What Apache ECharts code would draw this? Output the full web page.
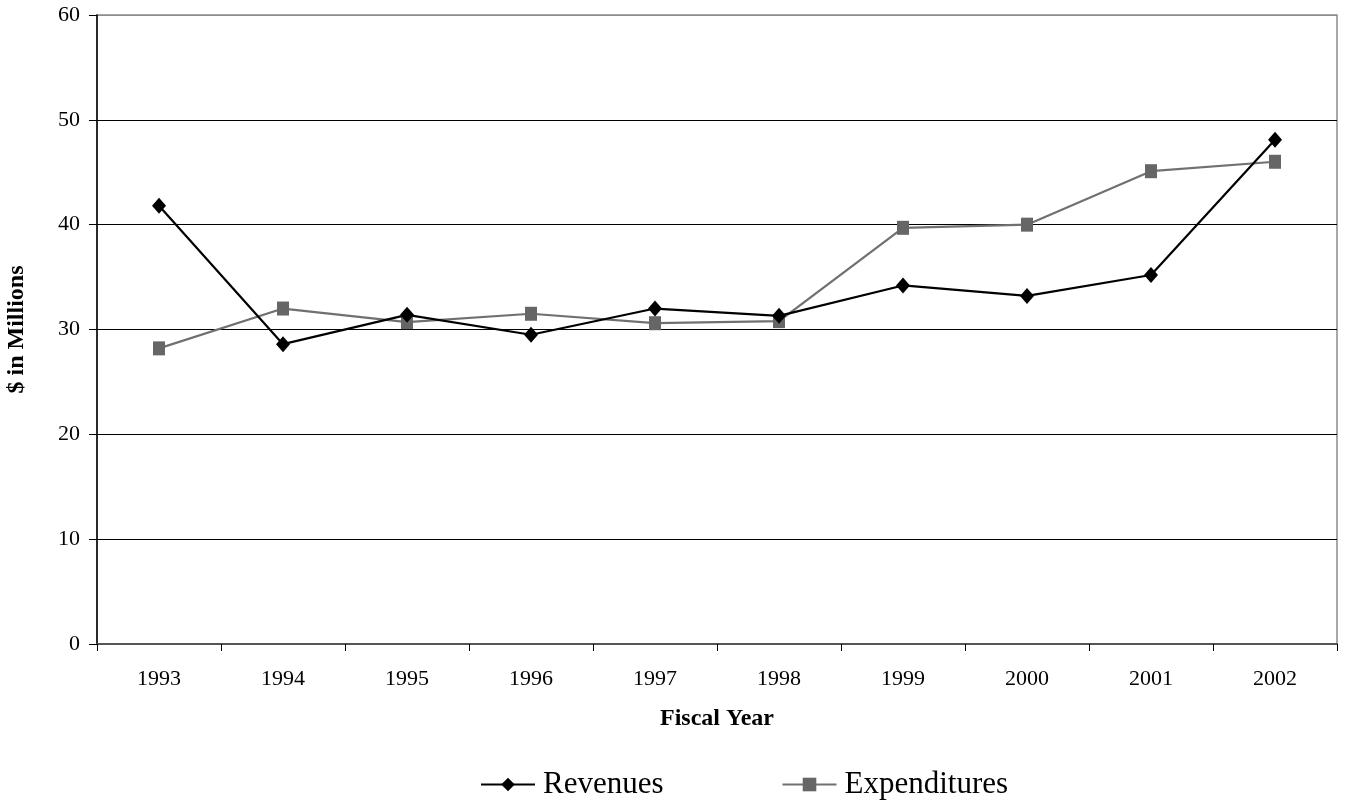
<!DOCTYPE html>
<html>
<head>
<meta charset="utf-8">
<script src="https://cdn.jsdelivr.net/npm/echarts@6/dist/echarts.min.js"></script>
<style>
html,body{margin:0;padding:0;background:#fff;}
#chart{width:1346px;height:804px;}
</style>
</head>
<body>
<div id="chart"></div>
<script>
const categories = ['1993','1994','1995','1996','1997','1998','1999','2000','2001','2002'];
const revenues = [41.8, 28.6, 31.4, 29.5, 32.0, 31.3, 34.2, 33.2, 35.2, 48.1];
const expenditures = [28.2, 32.0, 30.7, 31.5, 30.6, 30.8, 39.7, 40.0, 45.1, 46.0];
const yTicks = [0, 10, 20, 30, 40, 50, 60];

const serif = "'Liberation Serif', 'Times New Roman', serif";
const chart = echarts.init(document.getElementById('chart'));
chart.setOption({
  animation: false,
  backgroundColor: '#fff',
  textStyle: { fontFamily: serif },
  grid: {
    left: 97, right: 9, top: 15, bottom: 160,
    show: true, borderColor: '#8c8c8c', borderWidth: 1.5,
    containLabel: false, outerBoundsMode: 'none'
  },
  legend: {
    left: 475, top: 764,
    itemWidth: 54, itemHeight: 17, itemGap: 118,
    textStyle: { fontFamily: serif, fontSize: 31, color: '#000', padding: [0,0,0,3] },
    data: [
      { name: 'Revenues' },
      { name: 'Expenditures' }
    ]
  },
  xAxis: {
    type: 'category',
    data: categories,
    boundaryGap: true,
    name: 'Fiscal Year',
    nameLocation: 'middle',
    nameGap: 63,
    nameTextStyle: { fontFamily: serif, fontSize: 24, fontWeight: 'bold', color: '#000' },
    axisLine: { show: true, lineStyle: { color: '#555', width: 2 } },
    axisTick: { show: true, length: 7, interval: 0, alignWithLabel: false, lineStyle: { color: '#000', width: 1 } },
    axisLabel: { fontFamily: serif, fontSize: 22, color: '#000', margin: 24, interval: 0 },
    splitLine: { show: false }
  },
  yAxis: {
    type: 'value',
    min: yTicks[0], max: yTicks[yTicks.length - 1], interval: 10,
    name: '$ in Millions',
    nameLocation: 'middle',
    nameGap: 68,
    nameRotate: 90,
    nameTextStyle: { fontFamily: serif, fontSize: 24, fontWeight: 'bold', color: '#000' },
    axisLine: { show: true, lineStyle: { color: '#000', width: 1.5 } },
    axisTick: { show: true, length: 8, lineStyle: { color: '#000', width: 1 } },
    axisLabel: { fontFamily: serif, fontSize: 22, color: '#000', margin: 17 },
    splitLine: { show: true, lineStyle: { color: ['#000','#000','#000','#000','#000','#000','#8c8c8c'], width: 1 } }
  },
  series: [
    {
      name: 'Revenues',
      type: 'line',
      data: revenues,
      symbol: 'diamond',
      symbolSize: [14, 16],
      lineStyle: { color: '#000', width: 2.2 },
      itemStyle: { color: '#000' },
      z: 3
    },
    {
      name: 'Expenditures',
      type: 'line',
      data: expenditures,
      symbol: 'rect',
      symbolSize: [12, 14],
      lineStyle: { color: '#707070', width: 2.2 },
      itemStyle: { color: '#666' },
      z: 2
    }
  ]
});
</script>
</body>
</html>
